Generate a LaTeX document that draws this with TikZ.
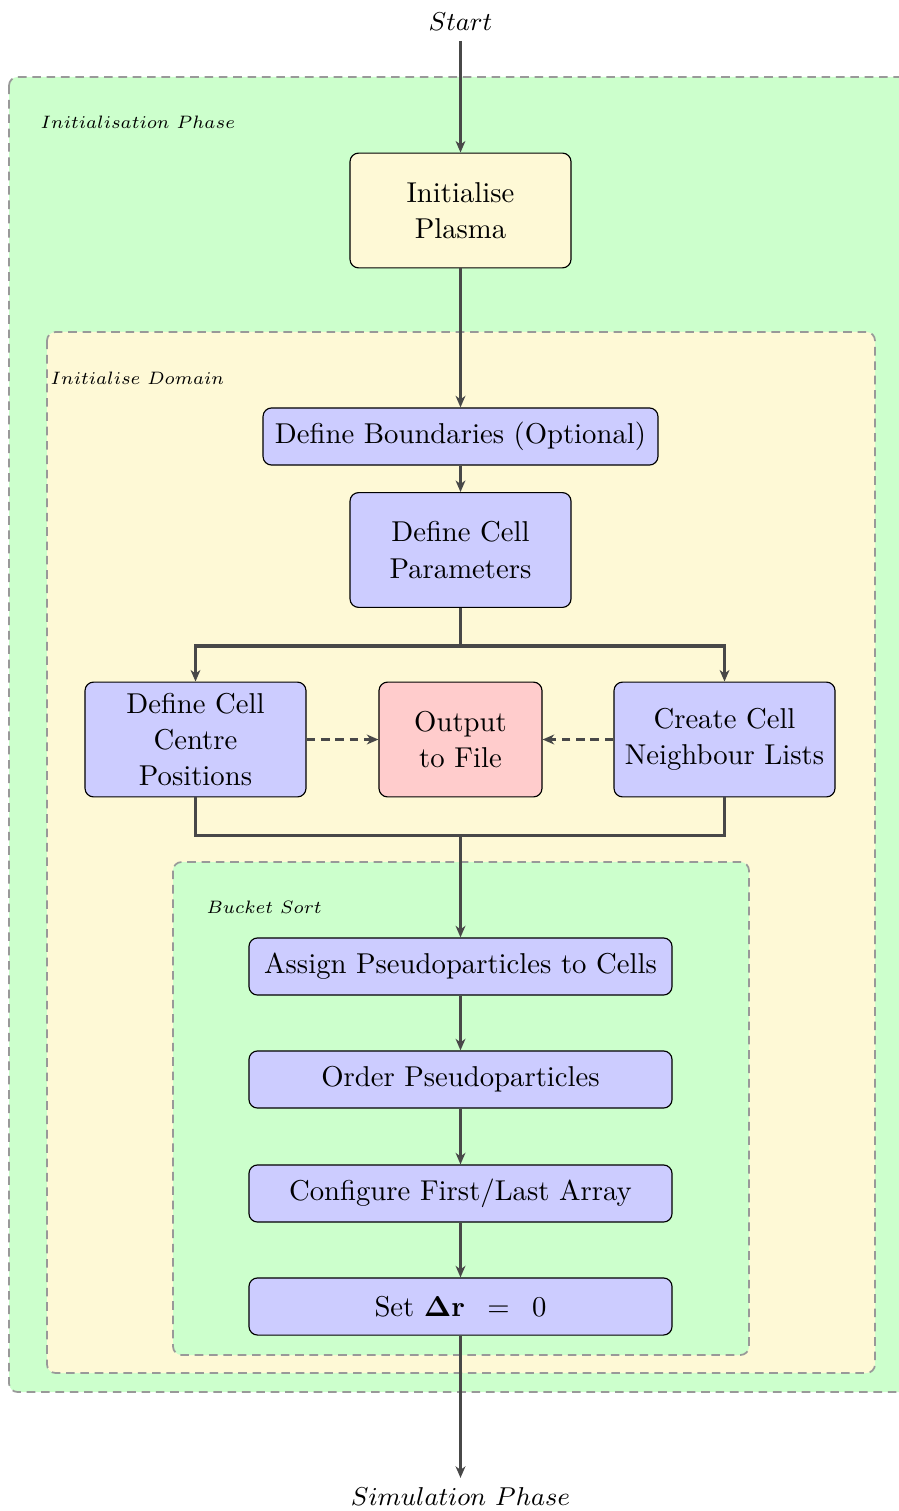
\documentclass[tikz,border=0pt]{standalone}
\usepackage{graphicx}
\usetikzlibrary{arrows.meta}
\definecolor{grpgreen}{RGB}{204,255,204}
\definecolor{grpyellow}{RGB}{254,249,214}
\definecolor{boxblue}{RGB}{204,204,255}
\definecolor{boxred}{RGB}{255,204,204}
\definecolor{linegray}{RGB}{72,72,72}
\newcommand\grptext[1]{\scalebox{0.895}{$#1$}}
\tikzset{
  flowbox/.style={draw=black, line width=0.4pt, rounded corners=3pt, align=center,
    inner sep=0pt, font=\fontsize{10pt}{12.6pt}\selectfont},
  tallbox/.style={flowbox, minimum width=77pt, minimum height=40pt},
  widebox/.style={flowbox, minimum width=147.4pt, minimum height=19.9pt, fill=boxblue},
  grp/.style={draw=black!40, line width=0.6pt, dash pattern=on 3pt off 2pt, rounded corners=3pt},
  grplabel/.style={anchor=west, font=\scriptsize, inner sep=0pt},
  terminal/.style={font=\fontsize{9.3pt}{11pt}\selectfont},
  flow/.style={draw=linegray, line width=1.05pt, -{Stealth[length=4pt, width=3.4pt, inset=1.2pt]}},
  plain/.style={draw=linegray, line width=1.05pt},
  dflow/.style={flow, dash pattern=on 3pt off 2pt},
}
\begin{document}
\begin{tikzpicture}[x=0.3484pt, y=-0.3484pt]
\useasboundingbox (0,0) rectangle (899,1511);

% nested phase regions
\draw[grp, fill=grpgreen] (9,77) rectangle (930,1392);
\node[grplabel] (lblinit) at (40,122) {\grptext{Initialisation\ Phase}};
\draw[grp, fill=grpyellow] (47,332) rectangle (875,1373);
\node[grplabel] (lbldomain) at (50,378) {\grptext{Initialise\ Domain}};
\draw[grp, fill=grpgreen] (173,862) rectangle (749,1355);
\node[grplabel] (lblbucket) at (206,907) {\grptext{Bucket\ Sort}};

% terminals
\node[terminal] (start) at (460.5,22) {$Start$};
\node[terminal] (sim) at (460.5,1497) {$Simulation\ Phase$};

% steps
\node[tallbox, fill=grpyellow] (plasma) at (460.5,210.5) {Initialise\\Plasma};
\node[flowbox, fill=boxblue, minimum width=137.6pt, minimum height=19.9pt] (bounds) at (460.5,436.5) {Define Boundaries (Optional)};
\node[tallbox, fill=boxblue] (params) at (460.5,550) {Define Cell\\Parameters};
\node[tallbox, fill=boxblue] (centre) at (195.5,739.5) {Define Cell\\Centre\\Positions};
\node[tallbox, fill=boxred, minimum width=56.8pt] (output) at (460.5,739.5) {Output\\to File};
\node[tallbox, fill=boxblue] (neigh) at (724.5,739.5) {Create Cell\\Neighbour Lists};
\node[widebox] (assign) at (460.5,966.5) {Assign Pseudoparticles to Cells};
\node[widebox] (order) at (460.5,1079.5) {Order Pseudoparticles};
\node[widebox] (config) at (460.5,1193.5) {Configure First/Last Array};
\node[widebox] (setdr) at (460.5,1306.5) {Set $\mathbf{\Delta r}\hspace{7.8pt}{=}\hspace{7.8pt}0$};

% junction points
\coordinate (split) at (460.5,646);
\coordinate (merge) at (460.5,835);

% connectors
\draw[flow] (start) -- (plasma);
\draw[flow] (plasma) -- (bounds);
\draw[flow] (bounds) -- (params);
\draw[plain] (params.south) -- (split);
\draw[flow] (split) -| (centre.north);
\draw[flow] (split) -| (neigh.north);
\draw[dflow] (centre) -- (output);
\draw[dflow] (neigh) -- (output);
\draw[plain] (centre.south) |- (merge);
\draw[plain] (neigh.south) |- (merge);
\draw[flow] (merge) -- (assign);
\draw[flow] (assign) -- (order);
\draw[flow] (order) -- (config);
\draw[flow] (config) -- (setdr);
\draw[flow] (setdr) -- (sim);
\end{tikzpicture}
\end{document}
